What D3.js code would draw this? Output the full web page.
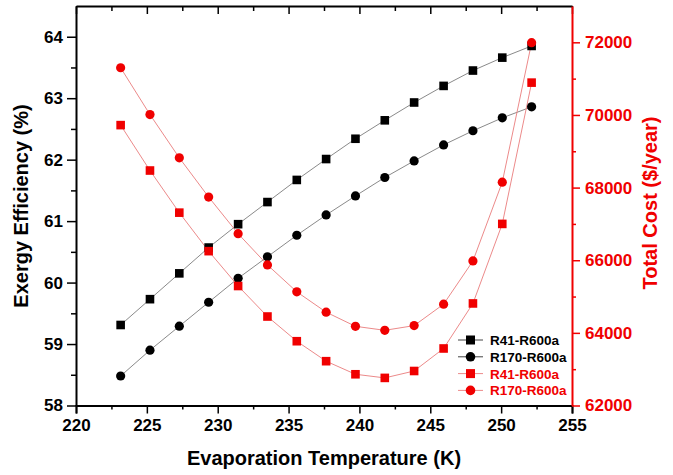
<!DOCTYPE html>
<html>
<head>
<meta charset="utf-8">
<script src="https://cdn.jsdelivr.net/npm/d3@7"></script>
<style>
  body { margin: 0; background: #fff; }
  svg { display: block; font-family: "Liberation Sans", Arial, sans-serif; font-weight: bold; }
  .axis text { font-size: 17px; font-weight: bold; }
</style>
</head>
<body>
<script>
var width = 673, height = 475;

// evaporation temperature (K)
var temps = [223.15, 225.22, 227.29, 229.36, 231.44, 233.51, 235.58, 237.65, 239.72, 241.79, 243.86, 245.94, 248.01, 250.08, 252.15];
// exergy efficiency (%)
var exR41 = [59.31, 59.73, 60.15, 60.57, 60.95, 61.31, 61.67, 62.01, 62.34, 62.64, 62.93, 63.20, 63.45, 63.66, 63.85];
var exR170 = [58.48, 58.90, 59.29, 59.68, 60.07, 60.42, 60.77, 61.10, 61.41, 61.71, 61.98, 62.24, 62.47, 62.68, 62.86];
// total cost ($/year)
var costR41 = [69720, 68470, 67310, 66250, 65290, 64450, 63770, 63220, 62860, 62760, 62950, 63570, 64810, 67000, 70890];
var costR170 = [71300, 70010, 68820, 67740, 66730, 65870, 65130, 64570, 64180, 64070, 64200, 64790, 65980, 68150, 71990];

var xTicks = [220, 225, 230, 235, 240, 245, 250, 255];
var yTicks = [58, 59, 60, 61, 62, 63, 64];
var y2Ticks = [62000, 64000, 66000, 68000, 70000, 72000];
var legendNames = ["R41-R600a", "R170-R600a", "R41-R600a", "R170-R600a"];

var red = "#f00000";

var svg = d3.select("body").append("svg")
    .attr("width", width)
    .attr("height", height);

var x = d3.scaleLinear().domain([220, 255]).range([76, 572]);
var y = d3.scaleLinear().domain([58, 64.5]).range([405.5, 6]);
var y2 = d3.scaleLinear().domain([62000, 73000]).range([405.5, 6]);

var minorX = d3.range(222.5, 255, 5);
var minorY = d3.range(58.5, 64.5, 1);
var minorY2 = d3.range(63000, 73000, 2000);

// bottom axis
svg.append("g").attr("class", "axis").attr("transform", "translate(0,405.5)")
    .call(d3.axisBottom(x).tickValues(xTicks).tickSize(8).tickPadding(5).tickFormat(d3.format("d")))
    .call(g => g.select(".domain").attr("stroke-width", 2));
svg.append("g").attr("transform", "translate(0,405.5)")
    .call(d3.axisBottom(x).tickValues(minorX).tickSize(4).tickFormat(""))
    .call(g => g.select(".domain").remove());

// top axis, ticks inward
svg.append("g").attr("transform", "translate(0,6)")
    .call(d3.axisTop(x).tickValues(xTicks).tickSizeInner(-8).tickSizeOuter(0).tickFormat(""))
    .call(g => g.select(".domain").attr("stroke-width", 2));
svg.append("g").attr("transform", "translate(0,6)")
    .call(d3.axisTop(x).tickValues(minorX).tickSizeInner(-5).tickSizeOuter(0).tickFormat(""))
    .call(g => g.select(".domain").remove());

// left axis
svg.append("g").attr("class", "axis").attr("transform", "translate(76,0)")
    .call(d3.axisLeft(y).tickValues(yTicks).tickSize(9).tickPadding(4).tickSizeOuter(0).tickFormat(d3.format("d")))
    .call(g => g.select(".domain").attr("stroke-width", 2));
svg.append("g").attr("transform", "translate(76,0)")
    .call(d3.axisLeft(y).tickValues(minorY).tickSize(5).tickFormat(""))
    .call(g => g.select(".domain").remove());

// right axis (red)
var ra = svg.append("g").attr("class", "axis").attr("transform", "translate(572,0)")
    .call(d3.axisRight(y2).tickValues(y2Ticks).tickSize(8).tickPadding(5).tickSizeOuter(0).tickFormat(d3.format("d")));
ra.select(".domain").attr("stroke", red).attr("stroke-width", 2);
ra.selectAll(".tick line").attr("stroke", red);
ra.selectAll(".tick text").attr("fill", red);
var ra2 = svg.append("g").attr("transform", "translate(572,0)")
    .call(d3.axisRight(y2).tickValues(minorY2).tickSize(4).tickFormat(""));
ra2.select(".domain").remove();
ra2.selectAll(".tick line").attr("stroke", red);

svg.selectAll(".tick line").attr("stroke-width", 1.5);

// axis titles
svg.append("text")
    .attr("x", 324).attr("y", 465)
    .attr("text-anchor", "middle")
    .style("font-size", "20px")
    .text("Evaporation Temperature (K)");

svg.append("text")
    .attr("transform", "translate(28,206) rotate(-90)")
    .attr("text-anchor", "middle")
    .style("font-size", "20px")
    .text("Exergy Efficiency (%)");

svg.append("text")
    .attr("transform", "translate(657,203) rotate(-90)")
    .attr("text-anchor", "middle")
    .style("font-size", "20px")
    .attr("fill", red)
    .text("Total Cost ($/year)");

// series
var series = [
    { vals: exR41, sc: y, shape: "square", color: "#000", line: "#8a8a8a" },
    { vals: exR170, sc: y, shape: "circle", color: "#000", line: "#8a8a8a" },
    { vals: costR41, sc: y2, shape: "square", color: red, line: "#ec8a8a" },
    { vals: costR170, sc: y2, shape: "circle", color: red, line: "#ec8a8a" }
];

series.forEach(function(s) {
    var pts = temps.map(function(t, i) { return [t, s.vals[i]]; });
    var line = d3.line()
        .x(function(d) { return x(d[0]); })
        .y(function(d) { return s.sc(d[1]); });
    svg.append("path")
        .datum(pts)
        .attr("d", line)
        .attr("fill", "none")
        .attr("stroke", s.line)
        .attr("stroke-width", 1);
});

series.forEach(function(s) {
    var pts = temps.map(function(t, i) { return [t, s.vals[i]]; });
    var g = svg.append("g");
    if (s.shape == "square") {
        g.selectAll("rect").data(pts).enter().append("rect")
            .attr("x", function(d) { return x(d[0]) - 4.3; })
            .attr("y", function(d) { return s.sc(d[1]) - 4.3; })
            .attr("width", 8.6).attr("height", 8.6)
            .attr("fill", s.color);
    } else {
        g.selectAll("circle").data(pts).enter().append("circle")
            .attr("cx", function(d) { return x(d[0]); })
            .attr("cy", function(d) { return s.sc(d[1]); })
            .attr("r", 4.6)
            .attr("fill", s.color);
    }
});

// legend
var leg = svg.append("g").attr("transform", "translate(458,340)");
series.forEach(function(s, i) {
    var row = leg.append("g").attr("transform", "translate(0," + (i * 16.8) + ")");
    row.append("line").attr("x1", 0).attr("x2", 25).attr("y1", 0).attr("y2", 0)
        .attr("stroke", s.color == "#000" ? "#444" : s.line).attr("stroke-width", 1);
    if (s.shape == "square") {
        row.append("rect").attr("x", 8).attr("y", -4.5).attr("width", 9).attr("height", 9).attr("fill", s.color);
    } else {
        row.append("circle").attr("cx", 12.5).attr("cy", 0).attr("r", 4.8).attr("fill", s.color);
    }
    row.append("text").attr("x", 32).attr("y", 5)
        .style("font-size", "13.5px")
        .attr("fill", s.color)
        .text(legendNames[i]);
});
</script>
</body>
</html>
